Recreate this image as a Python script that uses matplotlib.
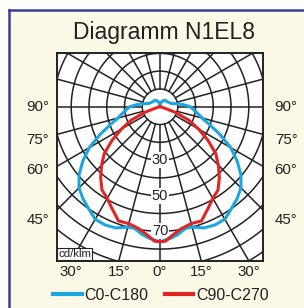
import matplotlib
matplotlib.use('Agg')
import matplotlib.pyplot as plt
import numpy as np
from matplotlib.patches import Rectangle
from matplotlib.lines import Line2D

plt.rcParams['font.family'] = ['Liberation Sans', 'DejaVu Sans']

# Luminous intensity distribution (cd/klm), gamma in degrees from nadir
gamma_c0 = [0, 5, 8, 12, 15, 20, 25, 30, 35, 40, 45, 50, 55, 60, 65, 70, 75, 80, 85, 90,
            95, 100, 105, 110, 120, 130, 140, 150, 160, 170, 180]
c0_c180 = [76, 74, 72.5, 69.8, 70, 72.5, 73.3, 73, 70, 67.5, 64.5, 59.5, 53, 46, 37.5, 30, 24.5, 21.5, 19, 17,
           13.3, 9.5, 7, 6, 5.2, 4.8, 4.7, 4, 3, 2, 1.5]

gamma_c90 = [0, 2.5, 5, 10, 15, 20, 25, 30, 35, 40, 45, 50, 55, 60, 65, 70, 75, 80, 90]
c90_c270 = [76, 75.5, 73, 69.5, 68, 68.3, 63.5, 59.5, 57, 52, 46.5, 41, 33, 25, 18, 9, 1.5, 0, 0]

circle_values = [10, 20, 30, 40, 50, 60, 70, 80, 90, 100, 110]
radial_labels = [30, 50, 70]
side_labels = ['90°', '75°', '60°', '45°']
side_label_y = [0, -18.7, -35.6, -63.7]
bottom_angles = [30, 15, 0, 15, 30]
bottom_signs = [-1, -1, 0, 1, 1]

blue = '#1ba6e0'
red = '#e42422'
txt = '#231f20'


def to_xy(gamma, vals):
    g = np.radians(np.asarray(gamma, dtype=float))
    r = np.asarray(vals, dtype=float)
    # mirror: one half plane on the left, the other on the right
    g_full = np.concatenate([-g[::-1], g[1:]])
    r_full = np.concatenate([r[::-1], r[1:]])
    return r_full * np.sin(g_full), -r_full * np.cos(g_full)


fig = plt.figure(figsize=(3.04, 3.08), dpi=100)
fig.patch.set_facecolor('white')

# cream panel with blue top/left border
x0, ytop = 9 / 304, 1 - 10 / 308
fig.patches.append(Rectangle((x0, 0), 1 - x0, ytop, transform=fig.transFigure,
                             facecolor='#fdf9e7', edgecolor='none', zorder=-10))
fig.lines.append(Line2D([x0, x0], [0, ytop], transform=fig.transFigure, color='#3b3f98', lw=1.8,
                        zorder=-5))
fig.lines.append(Line2D([x0, 1], [ytop, ytop], transform=fig.transFigure, color='#3b3f98', lw=1.8,
                        zorder=-5))

fig.text(164 / 304, 1 - 33 / 308, 'Diagramm N1EL8', ha='center', va='center',
         fontsize=16.5, color=txt)

ax = fig.add_axes([57 / 304, 1 - 261 / 308, 206 / 304, 208 / 308])
ax.set_xlim(-58, 58)
ax.set_ylim(-86.7, 30.2)
ax.set_facecolor('white')
ax.set_xticks([])
ax.set_yticks([])
for s in ax.spines.values():
    s.set_linewidth(1.4)
    s.set_color('#222222')

# polar grid
t = np.linspace(0, 2 * np.pi, 400)
for c in circle_values:
    ax.plot(c * np.cos(t), c * np.sin(t), color='#222222', lw=1.1, zorder=1)
for a in range(0, 360, 15):
    ar = np.radians(a)
    ax.plot([10 * np.sin(ar), 200 * np.sin(ar)], [-10 * np.cos(ar), -200 * np.cos(ar)],
            color='#222222', lw=1.1, zorder=1)

for v in radial_labels:
    ax.text(0, -v, str(v), ha='center', va='center', fontsize=10.5, color=txt, zorder=2,
            bbox=dict(facecolor='white', edgecolor='none', pad=0.6))

# curves
x, y = to_xy(gamma_c0, c0_c180)
ax.plot(x, y, color=blue, lw=2.2, zorder=3, solid_joinstyle='round')
x, y = to_xy(gamma_c90, c90_c270)
ax.plot(x, y, color=red, lw=2.2, zorder=3, solid_joinstyle='round')

ax.text(-57.2, -85.8, 'cd/klm', ha='left', va='bottom', fontsize=8.2, color=txt, zorder=5,
        bbox=dict(facecolor='white', edgecolor='#222222', lw=0.8, pad=0.7))

# side labels
for lab, yy in zip(side_labels, side_label_y):
    ax.text(-69, yy, lab, ha='center', va='center', fontsize=10.8, color=txt, clip_on=False)
    ax.text(71, yy, lab, ha='center', va='center', fontsize=10.8, color=txt, clip_on=False)

# bottom labels
ybot = -86.7
for ang, sgn in zip(bottom_angles, bottom_signs):
    xx = sgn * abs(ybot) * np.tan(np.radians(ang))
    ax.text(xx, ybot - 6.3, f'{ang}°', ha='center', va='center', fontsize=10.8, color=txt,
            clip_on=False)

# legend
handles = [Line2D([], [], color=blue, lw=3, label='C0-C180'),
           Line2D([], [], color=red, lw=3, label='C90-C270')]
fig.legend(handles=handles, loc='center', bbox_to_anchor=(161 / 304, 1 - 295 / 308), ncol=2,
           frameon=False, fontsize=11.5, handlelength=1.8, handletextpad=0.2, columnspacing=1.0,
           labelcolor=txt)

fig.savefig('out.png', dpi=100)
